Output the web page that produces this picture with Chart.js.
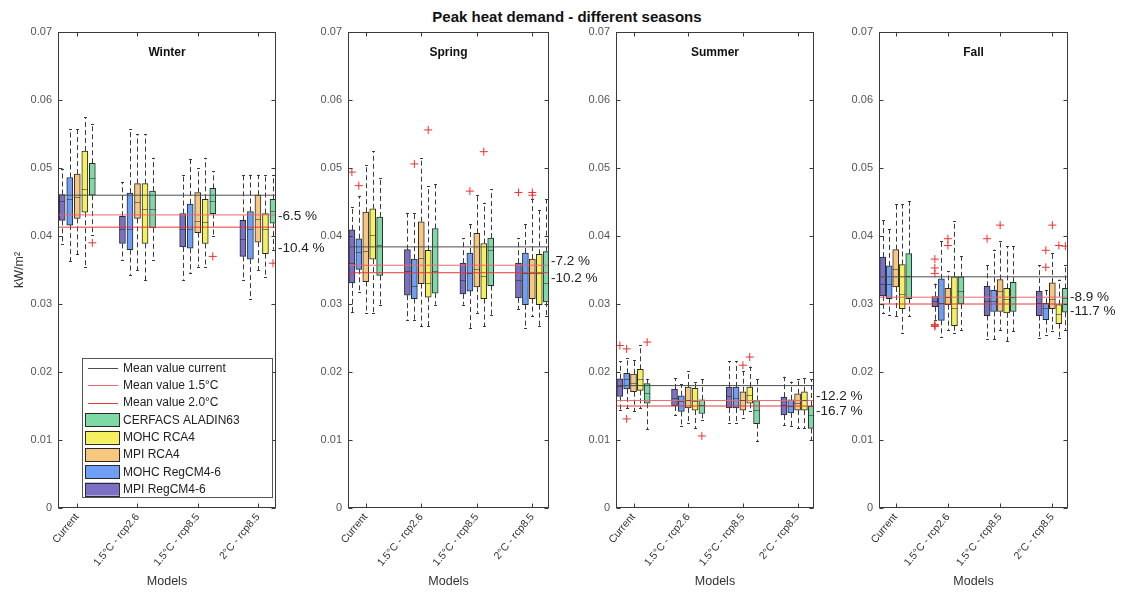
<!DOCTYPE html>
<html>
<head>
<meta charset="utf-8">
<script src="https://cdn.jsdelivr.net/npm/chart.js@4.4.1/dist/chart.umd.min.js"></script>
<style>
  body { margin: 0; background: #fff; width: 1126px; height: 594px; position: relative; overflow: hidden;
         font-family: "Liberation Sans", Arial, sans-serif; }
  #title { position: absolute; left: 0; top: 8px; width: 1134px; text-align: center;
           font-weight: bold; font-size: 15px; color: #111; }
  canvas { position: absolute; top: 0; }
</style>
</head>
<body>
<div id="title">Peak heat demand - different seasons</div>
<canvas id="c0"></canvas>
<canvas id="c1"></canvas>
<canvas id="c2"></canvas>
<canvas id="c3"></canvas>
<script>
// categories
const scenarios = ["Current", "1.5°C - rcp2.6", "1.5°C - rcp8.5", "2°C - rcp8.5"];
const models = ["MPI RegCM4-6", "MOHC RegCM4-6", "MPI RCA4", "MOHC RCA4", "CERFACS ALADIN63"];
const meanNames = ["Mean value current", "Mean value 1.5°C", "Mean value 2.0°C"];
const yTickValues = [0, 0.01, 0.02, 0.03, 0.04, 0.05, 0.06, 0.07];

// box stats: one row per model, one column per scenario
const winterLow  = [[.0388,.0365,.0336,.0335],[.0363,.0343,.0345,.0307],[.0373,.0350,.0355,.0350],[.0354,.0335,.0355,.0340],[.0402,.0365,.0400,.0380]];
const winterQ1   = [[.0423,.0389,.0384,.0370],[.0416,.0380,.0382,.0366],[.0426,.0426,.0405,.0391],[.0435,.0389,.0389,.0374],[.0460,.0412,.0433,.0419]];
const winterMed  = [[.0451,.0411,.0410,.0395],[.0454,.0410,.0410,.0410],[.0458,.0450,.0422,.0425],[.0469,.0440,.0420,.0410],[.0486,.0439,.0451,.0437]];
const winterQ3   = [[.0461,.0429,.0433,.0423],[.0486,.0463,.0447,.0436],[.0491,.0477,.0464,.0460],[.0525,.0477,.0454,.0433],[.0507,.0466,.0470,.0454]];
const winterHigh = [[.0498,.0479,.0490,.0490],[.0557,.0557,.0513,.0490],[.0557,.0550,.0500,.0490],[.0575,.0550,.0515,.0490],[.0564,.0515,.0495,.0490]];
const winterOutliers = [[4,0,.0390],[4,2,.0370],[4,3,.0360]];
const winterMeans = [.0460, .0431, .0413];
const winterChange = ["-6.5 %", "-10.4 %"];

const springLow  = [[.0288,.0277,.0299,.0292],[.0317,.0277,.0265,.0265],[.0287,.0267,.0287,.0282],[.0287,.0267,.0267,.0267],[.0299,.0299,.0284,.0282]];
const springQ1   = [[.0331,.0313,.0315,.0309],[.0351,.0308,.0319,.0299],[.0333,.0330,.0325,.0308],[.0366,.0310,.0308,.0299],[.0342,.0316,.0327,.0303]];
const springMed  = [[.0360,.0348,.0336,.0335],[.0376,.0326,.0346,.0345],[.0378,.0368,.0351,.0346],[.0402,.0331,.0341,.0345],[.0387,.0348,.0379,.0331]];
const springQ3   = [[.0409,.0380,.0360,.0360],[.0396,.0366,.0375,.0375],[.0435,.0421,.0404,.0366],[.0440,.0379,.0389,.0373],[.0428,.0411,.0397,.0377]];
const springHigh = [[.0442,.0434,.0397,.0397],[.0459,.0434,.0418,.0418],[.0505,.0515,.0461,.0454],[.0525,.0473,.0449,.0438],[.0486,.0476,.0469,.0454]];
const springOutliers = [[0,0,.0494],[1,0,.0474],[1,1,.0506],[3,1,.0556],[1,2,.0466],[3,2,.0524],[0,3,.0464],[2,3,.0464],[2,3,.0460]];
const springMeans = [.0384, .0357, .0346];
const springChange = ["-7.2 %", "-10.2 %"];

const summerLow  = [[.0144,.0137,.0125,.0122],[.0147,.0120,.0125,.0120],[.0142,.0125,.0133,.0117],[.0147,.0117,.0142,.0117],[.0116,.0130,.0098,.0100]];
const summerQ1   = [[.0164,.0150,.0147,.0137],[.0175,.0142,.0147,.0140],[.0171,.0147,.0144,.0144],[.0173,.0144,.0154,.0144],[.0154,.0139,.0124,.0117]];
const summerMed  = [[.0180,.0162,.0164,.0152],[.0189,.0157,.0162,.0150],[.0184,.0159,.0159,.0155],[.0189,.0157,.0166,.0159],[.0169,.0152,.0144,.0137]];
const summerQ3   = [[.0190,.0175,.0178,.0163],[.0198,.0165,.0178,.0159],[.0197,.0178,.0171,.0168],[.0204,.0176,.0178,.0171],[.0183,.0159,.0158,.0150]];
const summerHigh = [[.0216,.0191,.0216,.0193],[.0221,.0182,.0216,.0186],[.0218,.0201,.0201,.0189],[.0239,.0186,.0208,.0191],[.0190,.0189,.0190,.0189]];
const summerOutliers = [[0,0,.0239],[1,0,.0234],[1,0,.0131],[4,0,.0244],[4,1,.0106],[2,2,.0210],[3,2,.0222]];
const summerMeans = [.0180, .0158, .0150];
const summerChange = ["-12.2 %", "-16.7 %"];

const fallLow  = [[.0287,.0276,.0248,.0250],[.0284,.0252,.0248,.0255],[.0282,.0262,.0262,.0260],[.0257,.0257,.0245,.0250],[.0282,.0262,.0260,.0262]];
const fallQ1   = [[.0312,.0296,.0283,.0283],[.0308,.0276,.0289,.0277],[.0325,.0299,.0289,.0293],[.0293,.0268,.0287,.0271],[.0308,.0300,.0289,.0288]];
const fallMed  = [[.0330,.0304,.0304,.0301],[.0330,.0301,.0304,.0294],[.0351,.0311,.0319,.0308],[.0314,.0294,.0308,.0285],[.0341,.0319,.0311,.0309]];
const fallQ3   = [[.0369,.0311,.0326,.0319],[.0356,.0337,.0320,.0301],[.0380,.0323,.0336,.0331],[.0358,.0340,.0323,.0299],[.0374,.0340,.0332,.0323]];
const fallHigh = [[.0423,.0330,.0358,.0357],[.0410,.0392,.0380,.0320],[.0447,.0348,.0392,.0375],[.0447,.0422,.0385,.0336],[.0451,.0370,.0385,.0358]];
const fallOutliers = [[0,1,.0366],[0,1,.0353],[0,1,.0345],[0,1,.0270],[0,1,.0268],[0,1,.0267],[2,1,.0396],[2,1,.0386],
                      [0,2,.0396],[2,2,.0416],[1,3,.0379],[1,3,.0354],[2,3,.0416],[3,3,.0386],[4,3,.0385]];
const fallMeans = [.0340, .0310, .0300];
const fallChange = ["-8.9 %", "-11.7 %"];

const seasons = [
  { name: "Winter", low: winterLow, q1: winterQ1, med: winterMed, q3: winterQ3, high: winterHigh, out: winterOutliers, means: winterMeans, change: winterChange },
  { name: "Spring", low: springLow, q1: springQ1, med: springMed, q3: springQ3, high: springHigh, out: springOutliers, means: springMeans, change: springChange },
  { name: "Summer", low: summerLow, q1: summerQ1, med: summerMed, q3: summerQ3, high: summerHigh, out: summerOutliers, means: summerMeans, change: summerChange },
  { name: "Fall",   low: fallLow,   q1: fallQ1,   med: fallMed,   q3: fallQ3,   high: fallHigh,   out: fallOutliers,   means: fallMeans,   change: fallChange }
];

// layout / style
const panels = [
  { l: 58,  r: 276,  nudge: [1, 21] },
  { l: 348, r: 549,  nudge: [-4, 6] },
  { l: 616, r: 814,  nudge: [-4, 5] },
  { l: 879, r: 1068, nudge: [0, 7] }
];
const TOP = 32, BOTTOM = 508, LEFTW = 58, RIGHTW = 62, H = 594;
const X_MIN = 0.68, X_MAX = 4.3;
const OFFSETS = [-0.25, -0.125, 0, 0.125, 0.25];
const boxColors = ["#7a70c4", "#6e9ef5", "#f7c67f", "#f5f060", "#7fd9a7"];
const meanColors = ["#4d4d4d", "#e8686a", "#e03a3a"];
const FONT = "'Liberation Sans', Arial, sans-serif";

// whiskers, caps and medians, from the dataset stats
const boxPlugin = {
  id: "boxes",
  beforeDatasetsDraw(chart) {
    const ctx = chart.ctx, y = chart.scales.y;
    chart.data.datasets.forEach((ds, di) => {
      if (!ds.stats) return;
      chart.getDatasetMeta(di).data.forEach((el, i) => {
        const x = Math.round(el.x) + 0.5;
        const lo = y.getPixelForValue(ds.stats.low[i]), hi = y.getPixelForValue(ds.stats.high[i]);
        const q1 = y.getPixelForValue(ds.data[i].y[0]), q3 = y.getPixelForValue(ds.data[i].y[1]);
        ctx.save();
        ctx.strokeStyle = "#3a3a3a";
        ctx.lineWidth = 1;
        ctx.setLineDash([5, 3]);
        ctx.beginPath();
        ctx.moveTo(x, q3); ctx.lineTo(x, hi);
        ctx.moveTo(x, q1); ctx.lineTo(x, lo);
        ctx.stroke();
        ctx.setLineDash([]);
        ctx.beginPath();
        ctx.moveTo(x - 1.5, Math.round(hi) + 0.5); ctx.lineTo(x + 1.5, Math.round(hi) + 0.5);
        ctx.moveTo(x - 1.5, Math.round(lo) + 0.5); ctx.lineTo(x + 1.5, Math.round(lo) + 0.5);
        ctx.stroke();
        ctx.restore();
      });
    });
  },
  afterDatasetsDraw(chart) {
    const ctx = chart.ctx, y = chart.scales.y;
    chart.data.datasets.forEach((ds, di) => {
      if (!ds.stats) return;
      chart.getDatasetMeta(di).data.forEach((el, i) => {
        const m = Math.round(y.getPixelForValue(ds.stats.med[i])) + 0.5;
        ctx.save();
        ctx.strokeStyle = "rgba(40,40,40,0.55)";
        ctx.lineWidth = 1;
        ctx.beginPath();
        ctx.moveTo(el.x - 3, m); ctx.lineTo(el.x + 3, m);
        ctx.stroke();
        ctx.restore();
      });
    });
  }
};

// axes box with inward ticks, panel title, change labels, legend
const framePlugin = {
  id: "frame",
  afterDraw(chart) {
    const ctx = chart.ctx, a = chart.chartArea, xs = chart.scales.x, ys = chart.scales.y;
    const o = chart.options.plugins.frame;
    ctx.save();
    ctx.strokeStyle = "#3a3a3a";
    ctx.lineWidth = 1;
    const L = Math.round(a.left) + 0.5, R = Math.round(a.right) - 0.5, T = Math.round(a.top) + 0.5, B = Math.round(a.bottom) - 0.5;
    ctx.strokeRect(L, T, R - L, B - T);
    ctx.beginPath();
    yTickValues.forEach(v => {
      const p = Math.round(ys.getPixelForValue(v)) + 0.5;
      ctx.moveTo(L, p); ctx.lineTo(L + 4, p);
      ctx.moveTo(R, p); ctx.lineTo(R - 4, p);
    });
    scenarios.forEach((s, i) => {
      const p = Math.round(xs.getPixelForValue(i + 1)) + 0.5;
      ctx.moveTo(p, B); ctx.lineTo(p, B - 4);
      ctx.moveTo(p, T); ctx.lineTo(p, T + 4);
    });
    ctx.stroke();

    ctx.fillStyle = "#111";
    ctx.font = "bold 12px " + FONT;
    ctx.textAlign = "center";
    ctx.textBaseline = "middle";
    ctx.fillText(o.season.name, (a.left + a.right) / 2, a.top + 21);

    ctx.font = "13.5px " + FONT;
    ctx.textAlign = "left";
    ctx.fillStyle = "#222";
    o.season.change.forEach((t, i) => {
      ctx.fillText(t, a.right + 2, ys.getPixelForValue(o.season.means[i + 1]) + o.nudge[i]);
    });

    if (o.legend) {
      const lx = a.left + 24, ly = 358, lw = 190, lh = 139, row = 17.3;
      ctx.fillStyle = "#fff";
      ctx.fillRect(lx, ly, lw, lh);
      ctx.strokeStyle = "#555";
      ctx.strokeRect(lx + 0.5, ly + 0.5, lw, lh);
      ctx.font = "12px " + FONT;
      ctx.textBaseline = "middle";
      const entries = [];
      meanNames.forEach((n, i) => entries.push({ n, line: meanColors[i] }));
      for (let i = models.length - 1; i >= 0; i--) entries.push({ n: models[i], fill: boxColors[i] });
      entries.forEach((e, k) => {
        const cy = ly + 10 + k * row;
        if (e.line) {
          ctx.strokeStyle = e.line;
          ctx.beginPath();
          ctx.moveTo(lx + 6, Math.round(cy) + 0.5); ctx.lineTo(lx + 36, Math.round(cy) + 0.5);
          ctx.stroke();
        } else {
          ctx.fillStyle = e.fill;
          ctx.fillRect(lx + 3, cy - 6.5, 34, 13);
          ctx.strokeStyle = "#2a2a2a";
          ctx.strokeRect(Math.round(lx + 3) + 0.5, Math.round(cy - 6.5) + 0.5, 34, 13);
        }
        ctx.fillStyle = "#222";
        ctx.fillText(e.n, lx + 41, cy + 0.5);
      });
    }
    ctx.restore();
  }
};

seasons.forEach((season, pi) => {
  const p = panels[pi];
  const canvas = document.getElementById("c" + pi);
  const w = (p.r - p.l) + LEFTW + RIGHTW;
  canvas.width = w; canvas.height = H;
  canvas.style.width = w + "px"; canvas.style.height = H + "px";
  canvas.style.left = (p.l - LEFTW) + "px";

  const datasets = [];
  season.means.forEach((m, i) => datasets.push({
    type: "line", label: meanNames[i], order: 0,
    data: [{ x: X_MIN, y: m }, { x: X_MAX, y: m }],
    borderColor: meanColors[i], borderWidth: 1, pointRadius: 0, fill: false
  }));
  datasets.push({
    type: "scatter", label: "outliers", order: 1,
    data: season.out.map(([mi, si, v]) => ({ x: si + 1 + OFFSETS[mi], y: v })),
    pointStyle: "cross", pointRadius: 4, borderColor: "#f03030", borderWidth: 1
  });
  models.forEach((m, mi) => datasets.push({
    type: "bar", label: m, order: 3, grouped: false,
    data: scenarios.map((s, si) => ({ x: si + 1 + OFFSETS[mi], y: [season.q1[mi][si], season.q3[mi][si]] })),
    backgroundColor: boxColors[mi], borderColor: "#2a2a2a", borderWidth: 1, borderSkipped: false,
    barThickness: 6,
    stats: { low: season.low[mi], med: season.med[mi], high: season.high[mi] }
  }));

  new Chart(canvas, {
    type: "bar",
    data: { datasets },
    options: {
      responsive: false,
      animation: false,
      layout: { padding: { left: 0, right: RIGHTW, top: TOP, bottom: 0 } },
      plugins: {
        legend: { display: false },
        tooltip: { enabled: false },
        frame: { season, nudge: p.nudge, legend: pi === 0 }
      },
      scales: {
        x: {
          type: "linear", min: X_MIN, max: X_MAX, offset: false,
          afterBuildTicks: s => { s.ticks = scenarios.map((t, i) => ({ value: i + 1 })); },
          afterFit: s => { s.height = H - BOTTOM; },
          ticks: {
            callback: v => scenarios[v - 1] ?? "",
            autoSkip: false, minRotation: 50, maxRotation: 50,
            font: { family: FONT, size: 10.5 }, color: "#333", padding: 3
          },
          grid: { display: false, drawTicks: false },
          border: { display: false },
          title: { display: true, text: "Models", color: "#333", font: { family: FONT, size: 12.5 }, padding: { top: 0, bottom: 5 } }
        },
        y: {
          min: 0, max: 0.07,
          afterBuildTicks: s => { s.ticks = yTickValues.map(v => ({ value: v })); },
          afterFit: s => { s.width = LEFTW; },
          ticks: {
            callback: v => (v === 0 ? "0" : v.toFixed(2)),
            font: { family: FONT, size: 11 }, color: "#555", padding: 6
          },
          grid: { display: false, drawTicks: false },
          border: { display: false },
          title: { display: pi === 0, text: "kW/m²", color: "#333", font: { family: FONT, size: 12.5 }, padding: { top: 12, bottom: 0 } }
        }
      }
    },
    plugins: [boxPlugin, framePlugin]
  });
});
</script>
</body>
</html>
